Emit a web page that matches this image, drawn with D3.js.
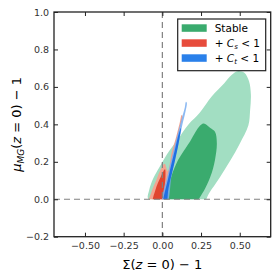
<!DOCTYPE html>
<html>
<head>
<meta charset="utf-8">
<script src="https://cdn.jsdelivr.net/npm/d3@7"></script>
<style>
  body { margin: 0; background: #fff; }
  text { font-family: "DejaVu Sans", sans-serif; }
</style>
</head>
<body>
<div id="chart"></div>
<script>
var width = 278,
    height = 280,
    margin = {top: 12, right: 7.3, bottom: 43.3, left: 54};

// contour outlines, [Sigma-1, mu-1]
var stableOuter = [[-0.09,0],[-0.085,0.05],[-0.06,0.11],[-0.02,0.17],[0.03,0.24],[0.10,0.32],[0.17,0.40],
  [0.24,0.46],[0.32,0.55],[0.40,0.62],[0.449,0.665],[0.49,0.685],[0.53,0.675],[0.56,0.63],[0.572,0.56],
  [0.567,0.475],[0.556,0.395],[0.50,0.297],[0.44,0.208],[0.373,0.119],[0.30,0.03],[0.265,-0.02],[0.1,-0.03]];
var stableInner = [[0.02,-0.02],[0.05,0.10],[0.09,0.19],[0.14,0.26],[0.18,0.31],[0.215,0.36],[0.24,0.39],
  [0.265,0.405],[0.28,0.40],[0.31,0.38],[0.34,0.36],[0.352,0.30],[0.34,0.21],[0.31,0.12],[0.25,0.02],[0.205,-0.02]];
var csOuter = [[-0.085,-0.02],[-0.07,0.04],[-0.04,0.10],[-0.01,0.16],[0.015,0.19],[0.035,0.15],[0.06,0.25],
  [0.085,0.32],[0.11,0.40],[0.125,0.45],[0.13,0.445],[0.105,0.35],[0.07,0.22],[0.04,0.10],[0.025,0.04],[0.015,-0.02]];
var csInner = [[-0.06,-0.02],[-0.045,0.05],[-0.01,0.12],[0.017,0.16],[0.02,0.12],[0.012,0.05],[0.0,-0.02]];
var ctOuter = [[0.0,-0.02],[0.04,0.15],[0.09,0.32],[0.125,0.43],[0.145,0.49],[0.152,0.52],[0.158,0.515],
  [0.15,0.47],[0.13,0.40],[0.10,0.28],[0.06,0.13],[0.03,-0.02]];
var ctInner = [[0.008,-0.02],[0.04,0.12],[0.08,0.26],[0.11,0.36],[0.12,0.38],[0.11,0.32],[0.08,0.2],[0.04,0.06],[0.025,-0.02]];

var xTicks = [-0.5, -0.25, 0, 0.25, 0.5];
var yTicks = [-0.2, 0.0, 0.2, 0.4, 0.6, 0.8, 1.0];
var legendLabels = ["Stable", "Cs", "Ct"];

var layers = [
  {pts: stableOuter, fill: "#a2dec2"},
  {pts: stableInner, fill: "#3aab6e"},
  {pts: csOuter, fill: "#f3a491"},
  {pts: csInner, fill: "#e0452f"},
  {pts: ctOuter, fill: "#78adf0", op: 0.85},
  {pts: ctInner, fill: "#1f6fe3"}
];
var legendColors = ["#3aab6e", "#e74c3c", "#2a80ea"];

var w = width - margin.left - margin.right,
    h = height - margin.top - margin.bottom;

var x = d3.scaleLinear().domain([-0.7, 0.7]).range([0, w]);
var y = d3.scaleLinear().domain([-0.2, 1.0]).range([h, 0]);

var svg = d3.select("#chart").append("svg")
    .attr("width", width)
    .attr("height", height);

var g = svg.append("g")
    .attr("transform", "translate(" + margin.left + "," + margin.top + ")");

// contours are cut at mu = 0
g.append("clipPath").attr("id", "cut")
  .append("rect")
    .attr("x", 0).attr("y", 0)
    .attr("width", w).attr("height", y(0));

var line = d3.line()
    .x(function(d) { return x(d[0]); })
    .y(function(d) { return y(d[1]); })
    .curve(d3.curveCatmullRomClosed.alpha(0.5));

g.append("g").attr("clip-path", "url(#cut)")
  .selectAll("path")
  .data(layers)
  .enter().append("path")
    .attr("d", function(d) { return line(d.pts); })
    .style("fill", function(d) { return d.fill; })
    .style("fill-opacity", function(d) { return d.op || 1; })
    .style("stroke", "none");

// reference lines
g.append("line")
    .attr("x1", x(0)).attr("x2", x(0))
    .attr("y1", 0).attr("y2", h)
    .style("stroke", "#808080").style("stroke-width", 1.2)
    .style("stroke-dasharray", "6,4");
g.append("line")
    .attr("x1", 0).attr("x2", w)
    .attr("y1", y(0)).attr("y2", y(0))
    .style("stroke", "#808080").style("stroke-width", 1.2)
    .style("stroke-dasharray", "6,4");

// axes, ticks inward on all sides
var fmtX = function(d) { return d.toFixed(2).replace("-", "\u2212"); };
var fmtY = function(d) { return d.toFixed(1).replace("-", "\u2212"); };

var axB = g.append("g").attr("transform", "translate(0," + h + ")")
    .call(d3.axisBottom(x).tickValues(xTicks).tickSize(-4).tickPadding(6).tickFormat(fmtX));
var axT = g.append("g")
    .call(d3.axisTop(x).tickValues(xTicks).tickSize(-4).tickFormat(""));
var axL = g.append("g")
    .call(d3.axisLeft(y).tickValues(yTicks).tickSize(-4).tickPadding(5).tickFormat(fmtY));
var axR = g.append("g").attr("transform", "translate(" + w + ",0)")
    .call(d3.axisRight(y).tickValues(yTicks).tickSize(-4).tickFormat(""));

[axB, axT, axL, axR].forEach(function(a) {
  a.select(".domain").remove();
  a.selectAll("line").style("stroke", "#222");
  a.selectAll("text").style("font-size", "9.5px").style("fill", "#333")
    .style("font-family", "'DejaVu Sans', sans-serif");
});

g.append("rect")
    .attr("width", w).attr("height", h)
    .style("fill", "none").style("stroke", "#222").style("stroke-width", 1.3);

// axis labels
svg.append("text")
    .attr("x", margin.left + w / 2).attr("y", 269)
    .attr("text-anchor", "middle")
    .style("font-size", "13px")
    .html("\u03a3(<tspan font-style='italic'>z</tspan> = 0) \u2212 1");

svg.append("text")
    .attr("transform", "translate(21," + (margin.top + h / 2) + ")rotate(-90)")
    .attr("text-anchor", "middle")
    .style("font-size", "13px")
    .html("<tspan font-style='italic'>\u03bc</tspan><tspan font-style='italic' font-size='9px' dy='3'>MG</tspan>" +
          "<tspan dy='-3'>(</tspan><tspan font-style='italic'>z</tspan> = 0) \u2212 1");

// legend
var leg = svg.append("g").attr("transform", "translate(177.7,19)");
leg.append("rect")
    .attr("width", 88).attr("height", 51.7)
    .style("fill", "#fff").style("stroke", "#222").style("stroke-width", 1.2);

var item = leg.selectAll("g.item")
    .data(legendLabels)
  .enter().append("g")
    .attr("class", "item")
    .attr("transform", function(d, i) { return "translate(4," + (5.3 + i * 15) + ")"; });

item.append("rect")
    .attr("width", 25).attr("height", 7.5)
    .style("fill", function(d, i) { return legendColors[i]; });

item.append("text")
    .attr("x", 33).attr("y", 7.5)
    .style("font-size", "10.5px")
    .html(function(d) {
      if (d == "Stable") return "Stable";
      return "+ <tspan font-style='italic'>C</tspan><tspan font-size='7px' dy='2' font-style='italic'>" +
             (d == "Cs" ? "s" : "t") + "</tspan><tspan dy='-2'> &lt; 1</tspan>";
    });
</script>
</body>
</html>
